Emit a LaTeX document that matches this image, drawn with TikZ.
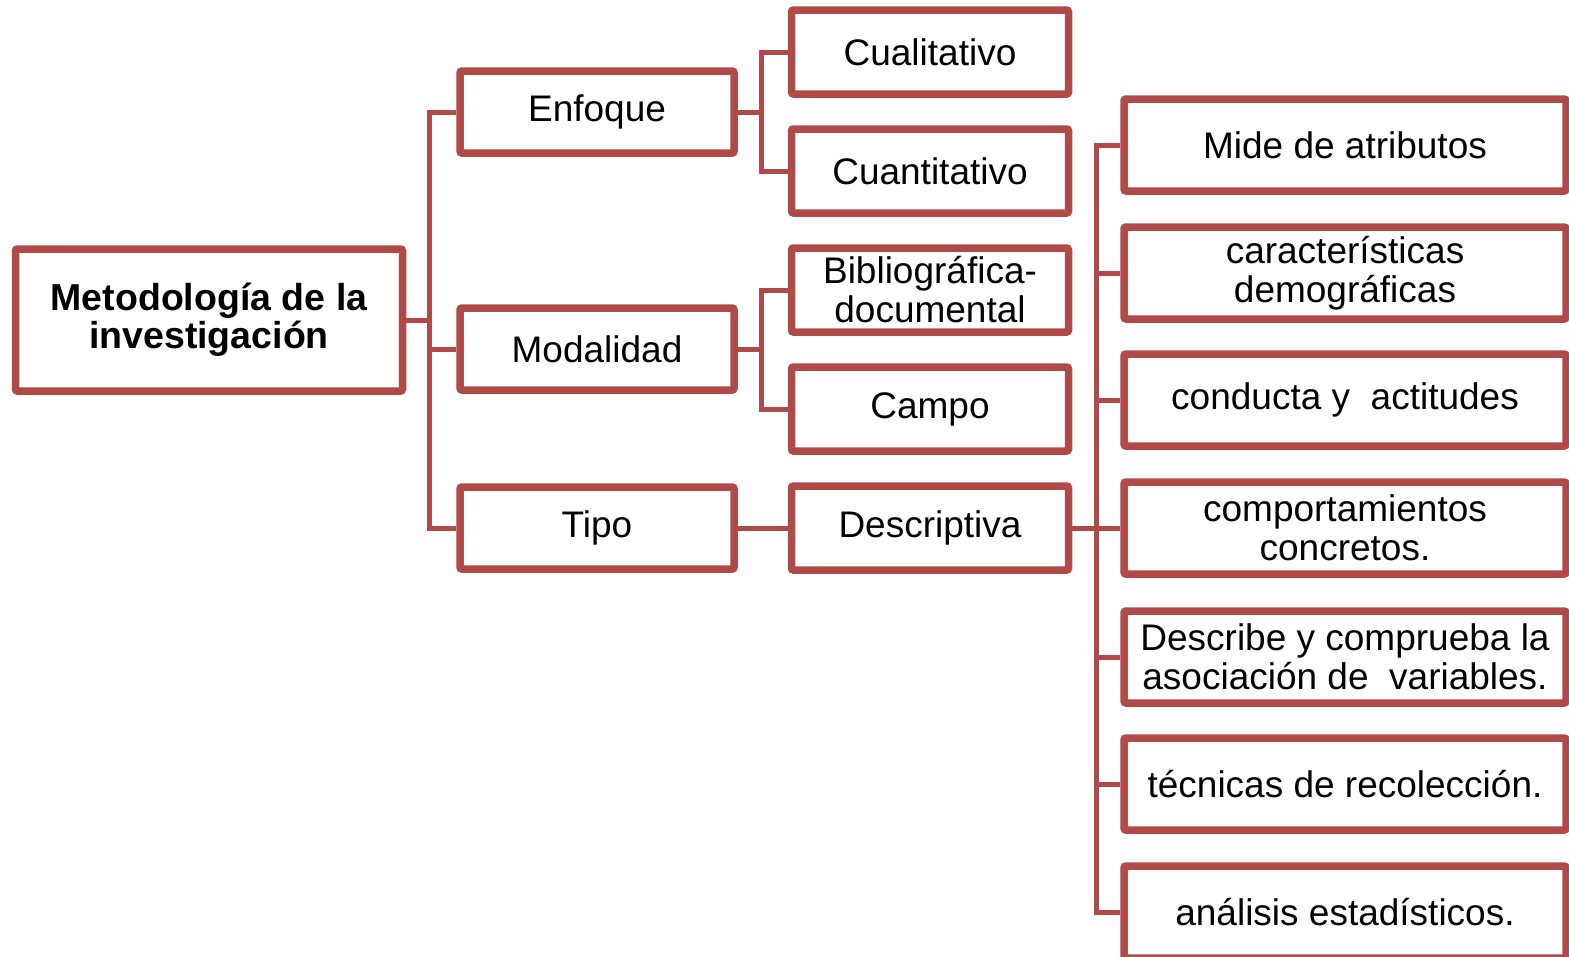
\documentclass[tikz,border=0pt]{standalone}
\usepackage{fontspec}
\setmainfont{Liberation Sans}
\usetikzlibrary{positioning,shadows}
\definecolor{boxred}{RGB}{176,74,72}
\tikzset{
  box/.style={draw=boxred, line width=7.5pt, fill=white, rounded corners=2pt,
    inner sep=0pt, align=center, font=\fontsize{37}{39}\selectfont,
    drop shadow={shadow xshift=1pt, shadow yshift=-4pt, opacity=.22}},
  link/.style={draw=boxred, line width=5pt}
}

\begin{document}
\begin{tikzpicture}[x=1pt, y=-1pt]
  \useasboundingbox (0,0) rectangle (1569,956);

  \node [box, minimum width=387pt, minimum height=142pt,
    font=\bfseries\fontsize{37.5}{38}\selectfont] (root) at (209,320)
    {Metodología de la\\investigación};

  \begin{scope}[every node/.style={box, minimum width=274pt, minimum height=82pt}]
    \node (enf) at (597,112) {Enfoque};
    \node (mod) at (597,349) {Modalidad};
    \node (tipo) at (597,528) {Tipo};
  \end{scope}

  \begin{scope}[every node/.style={box, minimum width=277pt, minimum height=84pt}]
    \node (cual) at (930,52) {Cualitativo};
    \node (cuan) at (930,171) {Cuantitativo};
    \node (biblio) at (930,290) {Bibliográfica-\\documental};
    \node (campo) at (930,409) {Campo};
    \node (desc) at (930,528) {Descriptiva};
  \end{scope}

  \begin{scope}[every node/.style={box, minimum width=442pt, minimum height=92pt}]
    \node (r1) at (1345,145) {Mide de atributos};
    \node (r2) at (1345,273) {características\\demográficas};
    \node (r3) at (1345,400) {conducta y\ \ actitudes};
    \node (r4) at (1345,528) {comportamientos\\concretos.};
    \node (r5) at (1345,657) {Describe y comprueba la\\asociación de\ \ variables.};
    \node (r6) at (1345,784) {técnicas de recolección.};
    \node (r7) at (1345,912) {análisis estadísticos.};
  \end{scope}

  % branches
  \draw [link] (root.east) -- ++(23,0) coordinate (j1);
  \foreach \n in {enf,mod,tipo}
    \draw [link] (j1) |- (\n.west);

  \draw [link] (enf.east) -- ++(24,0) coordinate (j2);
  \draw [link] (j2) |- (cual.west) (j2) |- (cuan.west);

  \draw [link] (mod.east) -- ++(24,0) coordinate (j3);
  \draw [link] (j3) |- (biblio.west) (j3) |- (campo.west);

  \draw [link] (tipo) -- (desc);

  \draw [link] (desc.east) -- ++(24,0) coordinate (j4);
  \foreach \n in {r1,r2,r3,r4,r5,r6,r7}
    \draw [link] (j4) |- (\n.west);
\end{tikzpicture}
\end{document}
